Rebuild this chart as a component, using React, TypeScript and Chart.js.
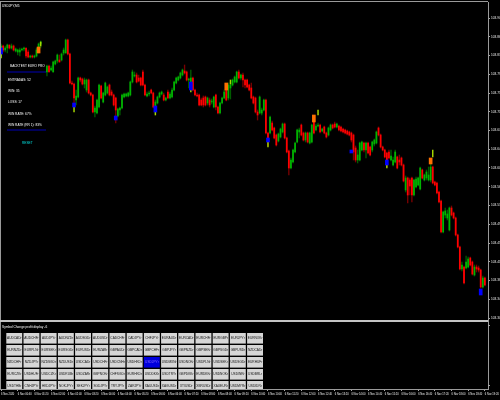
import React, { useEffect, useRef } from "react";
import { Chart, registerables } from "chart.js";

Chart.register(...registerables);

// Prices are stored as points above 103.000 (1 point = 0.001)
const open = [824,844,836,840,846,840,844,834,832,832,836,838,840,832,822,824,822,824,832,848,null,null,
792,804,796,792,808,814,816,816,830,830,856,828,770,768,736,742,780,778,
768,756,776,750,746,712,710,722,764,732,746,750,766,752,746,740,704,716,720,742,744,744,746,772,784,786,780,780,792,766,744,748,756,750,722,730,742,748,746,736,752,740,
742,756,770,776,780,786,794,792,776,770,780,756,746,746,736,740,742,730,736,732,722,746,722,710,730,740,762,740,760,766,772,772,792,780,786,776,776,766,760,742,740,712,710,710,716,736,670,670,690,680,666,
654,662,672,688,660,634,600,612,632,652,672,686,670,656,670,650,652,700,676,684,686,674,682,670,666,676,686,688,682,684,682,678,676,674,672,670,666,640,616,616,636,650,636,650,642,636,648,650,
680,666,642,636,630,632,616,606,612,622,616,620,606,556,580,576,580,546,562,566,558,596,576,580,576,576,602,572,570,552,534,472,506,500,476,520,510,500,466,442,398,402,400,402,420,412,386,402,400,396,362,380,null];
const close = [844,836,840,846,840,844,836,838,836,836,838,840,824,822,824,822,824,836,848,852,null,null,
804,792,800,812,814,826,812,828,836,856,828,770,768,740,744,780,776,768,
776,776,750,746,712,720,736,766,740,750,770,762,746,746,726,716,718,720,746,748,748,750,772,792,786,772,774,766,766,746,748,750,750,722,732,742,750,752,736,740,740,748,
756,772,780,782,790,796,790,776,778,780,756,746,744,726,726,726,726,740,726,734,742,722,710,730,740,752,736,766,766,776,782,792,780,786,776,766,762,756,740,730,712,706,742,716,736,670,656,702,676,660,646,
668,678,688,660,632,600,616,636,650,676,676,666,656,670,652,670,686,670,684,686,672,678,670,662,680,686,680,682,688,676,674,672,670,668,666,656,632,616,626,650,652,636,650,630,626,652,656,672,
666,642,636,622,616,620,624,616,632,600,612,606,574,580,546,564,546,576,578,580,600,580,586,592,586,602,570,566,550,532,472,512,514,508,520,506,500,466,442,398,406,370,412,418,406,388,402,398,396,362,380,366,null];
const high = [848,846,844,848,846,848,846,840,838,840,840,842,840,836,826,826,826,840,850,854,null,null,
806,806,804,814,816,828,826,830,840,858,858,830,774,770,756,782,782,780,
780,778,778,752,748,724,738,768,766,752,772,764,768,756,748,742,720,722,748,750,750,752,774,796,792,790,786,782,796,768,752,754,758,752,736,744,752,754,750,742,756,752,
760,774,782,784,792,798,806,794,780,796,782,758,750,748,740,744,744,742,740,738,744,748,724,732,742,756,764,770,772,778,784,794,796,788,790,778,778,768,770,744,742,716,744,720,738,738,672,704,694,682,668,
670,680,690,690,662,636,620,638,652,678,680,688,672,672,672,672,688,702,688,690,688,680,684,672,682,688,688,692,690,686,684,680,678,676,674,672,668,644,636,652,654,652,652,652,644,654,658,674,
682,668,644,638,632,636,636,622,636,624,626,622,608,584,582,580,582,578,582,582,602,598,588,596,602,616,604,574,572,554,536,514,520,516,522,524,512,502,468,444,412,404,424,422,422,414,406,406,404,398,384,382,null];
const low = [820,832,832,830,838,838,834,832,826,824,834,834,820,820,820,820,820,822,830,840,null,null,
784,792,794,792,806,810,812,814,826,830,826,768,766,728,726,740,772,766,
760,752,748,744,710,702,708,720,738,730,744,748,744,744,724,690,702,706,718,740,742,742,744,770,782,770,772,764,764,744,742,744,748,720,710,728,740,746,734,734,738,738,
740,754,768,774,778,784,788,774,760,768,754,744,742,724,724,722,724,726,722,728,720,716,708,708,728,738,734,736,738,764,770,770,778,776,762,760,760,754,738,728,710,696,708,706,714,668,644,668,674,658,644,
652,660,670,658,630,586,598,610,630,650,660,664,654,652,650,648,650,668,674,682,670,672,668,660,664,674,678,680,680,674,672,670,668,666,664,652,616,612,610,614,634,632,620,628,624,632,644,648,
664,640,634,620,602,618,614,604,610,598,606,604,572,552,530,546,532,544,560,564,556,578,574,576,574,572,568,564,548,530,470,470,500,496,474,504,498,464,440,396,394,368,398,400,404,386,384,392,392,360,360,364,null];

const blueAt = [0, 35, 55, 74, 91, 128, 168, 185, 230];
const blueTop = [840, 730, 704, 724, 772, 660, 636, 616, 358];
const blueBottom = [828, 722, 696, 712, 756, 652, 630, 606, 346];
const tailAt = [0, 35, 74, 91, 128, 185, 19, 110, 152, 207];
const tailTop = [828, 722, 712, 756, 652, 606, 852, 776, 716, 636];
const tailBottom = [820, 712, 706, 752, 642, 600, 844, 768, 706, 622];
const orangeAt = [18, 108, 150, 206];
const orangeTop = [842, 770, 706, 620];
const orangeBottom = [830, 756, 692, 608];

const priceTicks = [900, 862.5, 825, 787.5, 750, 712.5, 675, 637.5, 600, 562.5, 525, 487.5, 450, 412.5, 375, 337.5, 300];

const timeLabels = ["6 Nov 2020","6 Nov 00:40","6 Nov 01:20","6 Nov 02:00","6 Nov 02:40","6 Nov 03:20","6 Nov 04:00","6 Nov 04:40","6 Nov 05:20","6 Nov 06:00","6 Nov 06:40","6 Nov 07:20","6 Nov 08:00","6 Nov 08:40","6 Nov 09:20","6 Nov 10:00","6 Nov 10:40","6 Nov 11:20","6 Nov 12:00","6 Nov 12:40","6 Nov 13:20","6 Nov 14:00","6 Nov 14:40","6 Nov 15:20","6 Nov 16:00","6 Nov 16:40","6 Nov 17:20","6 Nov 18:00","6 Nov 18:40","6 Nov 19:20"];

const symbolTitle = "USDJPY,M5";
const panelTitle = "Symbol Change profit display -6";
const statLines = ["ENTRADAS: 52", "WIN: 35", "LOSS: 17", "WIN RATE: 67%", "WIN RATE (RR 1): 83%"];
const statY = [80, 91, 102, 114, 125];
const statHeader = "BACKTEST EURO PRO";
const resetLabel = "RESET";

const buttonRows = [
  ["AUDCADr","AUDCHFr","AUDJPYr","AUDNZDr","AUDSGDr","AUDUSDr","CADCHFr","CADJPYr","CHFJPYr","EURAUDr","EURCADr","EURCHFr","EURGBPr","EURJPYr","EURNOKr"],
  ["EURNZDr","EURPLNr","EURSEKr","EURSGDr","EURUSDr","EURZARr","GBPAUDr","GBPCADr","GBPCHFr","GBPJPYr","GBPNZDr","GBPSEKr","GBPSGDr","GBPUSDr","NZDCADr"],
  ["NZDCHFr","NZDJPYr","NZDSGDr","NZDUSDr","USDCADr","USDCHFr","USDCNHr","USDHKDr","USDJPYr","USDMXNr","USDNOKr","USDPLNr","USDSEKr","USDSGDr","EURHUFr"],
  ["EURCZKr","USDHUFr","USDCZKr","USDRUBr","USDZARr","GBPNOKr","CHFSGDr","EURHKDr","USDDKKr","USDTRYr","GBPDKKr","EURDKKr","USDNOKr","USDINRr","USDBRLr"],
  ["USDTHBr","CNHJPYr","HKDJPYr","NOKJPYr","SEKJPYr","SGDJPYr","TRYJPYr","ZARJPYr","XAUUSDr","XAGUSDr","XTIUSDr","XBRUSDr","XAUEURr","USDMYRr","USDIDRr"],
];
const selectedRow = 2;
const selectedCol = 8;

const categories = open.map((_, i) => String(i));
const isUp = (i: number) => (close[i] as number) >= (open[i] as number);
const body = (want: boolean) =>
  open.map((o, i) => (o === null || isUp(i) !== want ? null : [o, close[i]]));
const wick = (want: boolean) =>
  open.map((o, i) => (o === null || isUp(i) !== want ? null : [low[i], high[i]]));
const marker = (at: number[], top: number[], bottom: number[]) =>
  open.map((_, i) => {
    const k = at.indexOf(i);
    return k < 0 ? null : [bottom[k], top[k]];
  });

const FONT = '"Liberation Sans", Arial, sans-serif';

const decorations = {
  id: "mt4Decorations",
  afterDraw(chart: any) {
    const c = chart.ctx;
    c.save();
    // frame
    c.fillStyle = "#9a9a9a";
    c.fillRect(0, 1, 488, 1);
    c.fillRect(0, 1, 1, 388);
    c.fillRect(0, 389, 488, 1);
    c.fillStyle = "#c4c4c4";
    c.fillRect(0, 320, 488, 2);
    c.fillStyle = "#aaaaaa";
    c.fillRect(488, 325, 2, 1);
    c.fillRect(488, 385, 2, 1);

    c.textBaseline = "middle";
    c.textAlign = "left";
    c.font = `3.2px ${FONT}`;
    c.fillStyle = "#ffffff";
    c.fillText(symbolTitle, 2, 6);
    c.fillText(panelTitle, 2, 327);

    // stats block
    c.fillText(statHeader, 10, 66);
    statLines.forEach((t, i) => c.fillText(t, 8, statY[i]));
    c.fillStyle = "#0000b4";
    c.fillRect(7, 71.5, 39, 1);
    c.fillRect(7, 129.5, 39, 1);
    c.fillStyle = "#00e0e0";
    c.fillText(resetLabel, 22, 143);

    // symbol buttons
    c.beginPath();
    c.rect(0, 322, 488, 67);
    c.clip();
    buttonRows.forEach((row, r) => {
      row.forEach((label, col) => {
        const x = 6.3 + col * 17.2;
        const y = 333 + r * 12;
        const sel = r === selectedRow && col === selectedCol;
        c.fillStyle = sel ? "#0000dc" : "#d6d6d6";
        c.fillRect(x, y, 15.9, 10.6);
        c.fillStyle = sel ? "#8c6cff" : "#111111";
        c.textAlign = "center";
        c.fillText(label, x + 8, y + 5.4);
      });
    });
    c.restore();
  },
};

export default function App() {
  const ref = useRef<HTMLCanvasElement>(null);
  useEffect(() => {
    const bar = (extra: any) => ({ grouped: false, borderWidth: 0, borderSkipped: false, ...extra });
    const chart = new Chart(ref.current!, {
      type: "bar",
      data: {
        labels: categories,
        datasets: [
          bar({ label: "Up wick", data: wick(true), backgroundColor: "#005c00", barThickness: 0.7, order: 6 }),
          bar({ label: "Down wick", data: wick(false), backgroundColor: "#7a0000", barThickness: 0.7, order: 5 }),
          bar({ label: "Up", data: body(true), backgroundColor: "#00b400", barThickness: 1.1, order: 4 }),
          bar({ label: "Down", data: body(false), backgroundColor: "#ff0000", barThickness: 1.1, order: 3 }),
          bar({ label: "Arrow tail", data: marker(tailAt, tailTop, tailBottom), backgroundColor: "#a6d800", barThickness: 0.8, order: 2 }),
          bar({ label: "Buy arrow", data: marker(blueAt, blueTop, blueBottom), backgroundColor: "#0000ff", barThickness: 3, order: 1 }),
          bar({ label: "Sell arrow", data: marker(orangeAt, orangeTop, orangeBottom), backgroundColor: "#ff7000", barThickness: 3, order: 1 }),
        ],
      } as any,
      options: {
        animation: false,
        responsive: false,
        layout: { padding: { top: 2, left: 0, right: 0, bottom: 0 } },
        plugins: { legend: { display: false }, tooltip: { enabled: false }, title: { display: false } },
        scales: {
          x: {
            type: "category",
            offset: true,
            grid: { display: true, drawOnChartArea: false, drawTicks: true, tickLength: 2, color: "#aaaaaa", offset: false },
            border: { display: false },
            afterBuildTicks: (s: any) => {
              s.ticks = s.ticks.filter((_: any, i: number) => i % 8 === 0);
            },
            afterFit: (s: any) => {
              s.height = 11;
              s.paddingLeft = 0;
              s.paddingRight = 0;
            },
            ticks: {
              autoSkip: false,
              maxRotation: 0,
              minRotation: 0,
              align: "start",
              padding: 1.5,
              color: "#f0f0f0",
              font: { family: FONT, size: 2.6 },
              callback: (value: any) => timeLabels[Math.round(Number(value) / 8)] ?? "",
            },
          },
          y: {
            type: "linear",
            position: "right",
            min: 158,
            max: 932,
            grid: { display: true, drawOnChartArea: false, drawTicks: true, tickLength: 2, color: "#aaaaaa" },
            border: { display: true, color: "#9a9a9a", width: 1 },
            afterBuildTicks: (s: any) => {
              s.ticks = priceTicks.map((value) => ({ value }));
            },
            afterFit: (s: any) => {
              s.width = 12;
              s.paddingTop = 0;
              s.paddingBottom = 0;
            },
            ticks: {
              padding: 1,
              color: "#f0f0f0",
              font: { family: FONT, size: 3.2 },
              callback: (value: any) => ((103000 + Number(value)) / 1000).toFixed(2),
            },
          },
        },
      } as any,
      plugins: [
        {
          id: "blackBackground",
          beforeDraw(ch: any) {
            ch.ctx.save();
            ch.ctx.fillStyle = "#000";
            ch.ctx.fillRect(0, 0, ch.width, ch.height);
            ch.ctx.restore();
          },
        },
        decorations,
      ],
    });
    return () => chart.destroy();
  }, []);
  return (
    <div style={{ position: "fixed", left: 0, top: 0, width: 500, height: 400, background: "#000" }}>
      <canvas ref={ref} width={500} height={400} style={{ display: "block", width: 500, height: 400 }} />
    </div>
  );
}
